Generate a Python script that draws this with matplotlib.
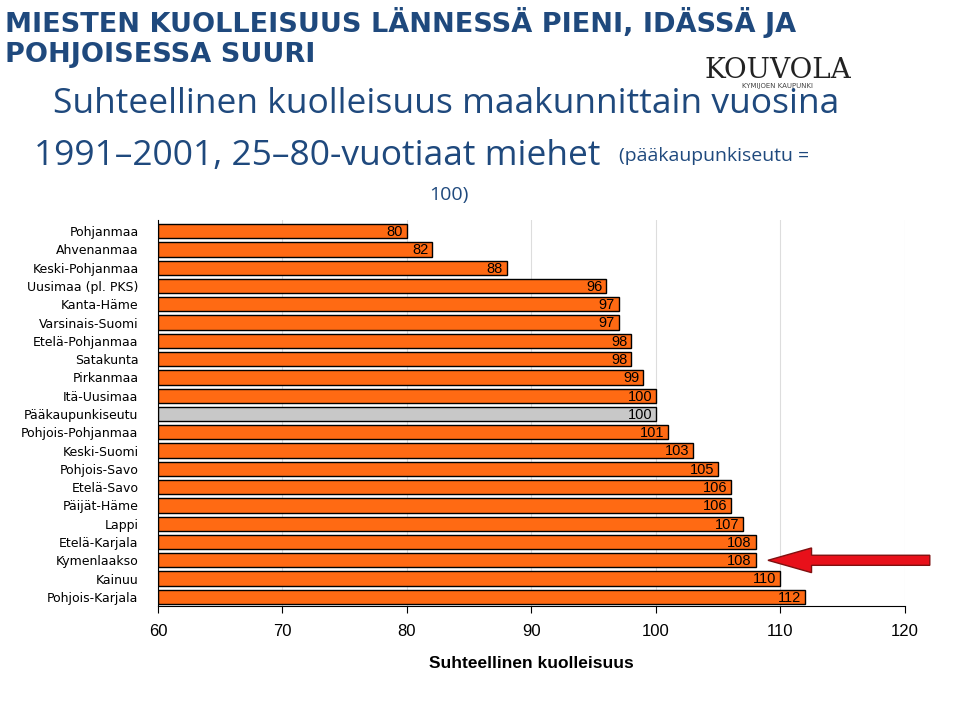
import matplotlib.pyplot as plt
from matplotlib.patches import FancyArrow

regions = ["Pohjanmaa", "Ahvenanmaa", "Keski-Pohjanmaa", "Uusimaa (pl. PKS)", "Kanta-Häme",
           "Varsinais-Suomi", "Etelä-Pohjanmaa", "Satakunta", "Pirkanmaa", "Itä-Uusimaa",
           "Pääkaupunkiseutu", "Pohjois-Pohjanmaa", "Keski-Suomi", "Pohjois-Savo", "Etelä-Savo",
           "Päijät-Häme", "Lappi", "Etelä-Karjala", "Kymenlaakso", "Kainuu", "Pohjois-Karjala"]
values = [80, 82, 88, 96, 97, 97, 98, 98, 99, 100, 100, 101, 103, 105, 106, 106, 107, 108, 108, 110, 112]
xticks = [60, 70, 80, 90, 100, 110, 120]

fig = plt.figure(figsize=(9.6, 7.01), dpi=100)
fig.patch.set_facecolor("white")
blue = "#1f497d"

fig.text(0.005, 0.968, "MIESTEN KUOLLEISUUS LÄNNESSÄ PIENI, IDÄSSÄ JA", fontsize=19.5, fontweight="heavy",
         color=blue, family="DejaVu Sans", va="center")
fig.text(0.005, 0.922, "POHJOISESSA SUURI", fontsize=19.5, fontweight="heavy",
         color=blue, family="DejaVu Sans", va="center")
fig.text(0.81, 0.9, "KOUVOLA", fontsize=20, family="DejaVu Serif", color="#222222", ha="center", va="center")
fig.text(0.81, 0.877, "KYMIJOEN KAUPUNKI", fontsize=5, color="#444444", ha="center", va="center")
fig.text(0.465, 0.851, "Suhteellinen kuolleisuus maakunnittain vuosina", fontsize=25.5,
         color=blue, family="Open Sans", ha="center", va="center")
fig.text(0.035, 0.778, "1991–2001, 25–80-vuotiaat miehet", fontsize=25.5,
         color=blue, family="Open Sans", va="center")
fig.text(0.645, 0.778, "(pääkaupunkiseutu =", fontsize=14,
         color=blue, family="Open Sans", va="center")
fig.text(0.468, 0.722, "100)", fontsize=14, color=blue, family="Open Sans", ha="center", va="center")

ax = fig.add_axes([0.1646, 0.1355, 0.778, 0.5505])
y = list(range(len(regions)))
colors = ["#c8c8c8" if r == "Pääkaupunkiseutu" else "#ff6a13" for r in regions]
ax.barh(y, [v - 60 for v in values], left=60, height=0.78, color=colors, edgecolor="black", linewidth=1)
for yi, v in zip(y, values):
    ax.text(v - 0.3, yi + 0.05, str(v), ha="right", va="center", fontsize=10.5, family="Liberation Sans")
ax.set_xlim(60, 120)
ax.set_ylim(len(regions) - 0.5, -0.6)
ax.set_yticks(y)
ax.set_yticklabels(regions, fontsize=9, family="DejaVu Sans")
ax.tick_params(axis="y", length=0, pad=14)
ax.set_xticks(xticks)
ax.set_xticklabels([str(t) for t in xticks], fontsize=12, family="Liberation Sans")
ax.tick_params(axis="x", length=5, pad=8)
ax.grid(axis="x", color="#dddddd", linewidth=0.8)
ax.set_axisbelow(True)
ax.spines["top"].set_visible(False)
ax.spines["right"].set_visible(False)
ax.set_xlabel("Suhteellinen kuolleisuus", fontsize=12.5, fontweight="bold", family="Liberation Sans", labelpad=12)

arrow = FancyArrow(122.0, 18, -13.0, 0, width=0.55, head_width=1.35, head_length=3.5,
                   length_includes_head=True, facecolor="#e8101a", edgecolor="#801010",
                   linewidth=1, clip_on=False, transform=ax.transData)
ax.add_patch(arrow)

fig.savefig("out.png", dpi=100)
